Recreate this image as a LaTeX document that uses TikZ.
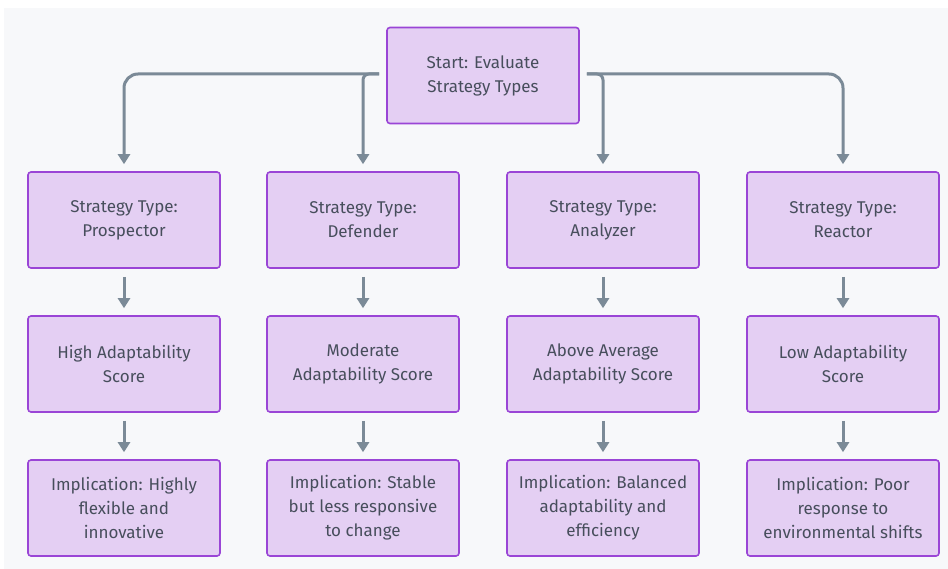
\documentclass[tikz,border=0pt]{standalone}
\usepackage{fontspec}
\setmainfont{Fira Sans}
\usetikzlibrary{arrows.meta}
\definecolor{bgc}{HTML}{F7F8FA}
\definecolor{boxfill}{HTML}{E4CFF3}
\definecolor{boxdraw}{HTML}{9A45D6}
\definecolor{txt}{HTML}{474E5C}
\definecolor{conncol}{HTML}{7B8A97}
\begin{document}
\begin{tikzpicture}[x=1pt,y=-1pt,
  stratbox/.style={draw=boxdraw, fill=boxfill, line width=1.6pt, rounded corners=3pt,
    minimum width=192pt, minimum height=96pt, inner sep=0pt, align=center,
    text=txt, font=\fontsize{17}{24}\selectfont},
  conn/.style={draw=conncol, line width=3pt, -{Triangle[length=10pt,width=12pt]}, shorten >=7pt}
]
\useasboundingbox (0,0) rectangle (948,569);
\fill[bgc] (4,8) rectangle (948,569);

\node[stratbox] (start) at (483,75.5) {Start: Evaluate\\Strategy Types};

\node[stratbox] (t1) at (124,220) {Strategy Type:\\Prospector};
\node[stratbox] (t2) at (363,220) {Strategy Type:\\Defender};
\node[stratbox] (t3) at (603,220) {Strategy Type:\\Analyzer};
\node[stratbox] (t4) at (843,220) {Strategy Type:\\Reactor};

\node[stratbox] (s1) at (124,364) {High Adaptability\\Score};
\node[stratbox] (s2) at (363,364) {Moderate\\Adaptability Score};
\node[stratbox] (s3) at (603,364) {Above Average\\Adaptability Score};
\node[stratbox] (s4) at (843,364) {Low Adaptability\\Score};

\node[stratbox] (i1) at (124,508) {Implication: Highly\\flexible and\\innovative};
\node[stratbox] (i2) at (363,508) {Implication: Stable\\but less responsive\\to change};
\node[stratbox] (i3) at (603,508) {Implication: Balanced\\adaptability and\\efficiency};
\node[stratbox] (i4) at (843,508) {Implication: Poor\\response to\\environmental shifts};

\draw[conn, rounded corners=14pt] ([xshift=-7pt,yshift=1.5pt]start.west) -- ([yshift=1.5pt]t1.north |- start.west) -- (t1.north);
\draw[conn, rounded corners=6pt] ([xshift=-7pt,yshift=1.5pt]start.west) -- ([yshift=1.5pt]t2.north |- start.west) -- (t2.north);
\draw[conn, rounded corners=6pt] ([xshift=7pt,yshift=1.5pt]start.east) -- ([yshift=1.5pt]t3.north |- start.east) -- (t3.north);
\draw[conn, rounded corners=14pt] ([xshift=7pt,yshift=1.5pt]start.east) -- ([yshift=1.5pt]t4.north |- start.east) -- (t4.north);

\foreach \c in {1,2,3,4}{
  \draw[conn, shorten <=8pt] (t\c.south) -- (s\c.north);
  \draw[conn, shorten <=8pt] (s\c.south) -- (i\c.north);
}
\end{tikzpicture}
\end{document}
